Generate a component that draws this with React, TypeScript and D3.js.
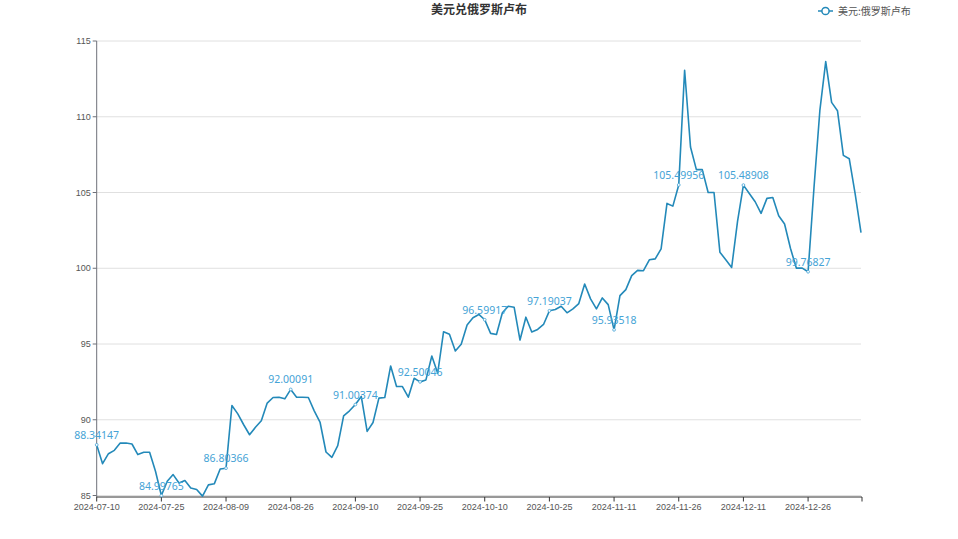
import React from 'react';
import { scalePoint, scaleLinear, line } from 'd3';

const title = '美元兑俄罗斯卢布';
const seriesName = '美元:俄罗斯卢布';

// weekday dates, grouped by month
const months: [string, number[]][] = [
  ['2024-07', [10, 11, 12, 15, 16, 17, 18, 19, 22, 23, 24, 25, 26, 29, 30, 31]],
  ['2024-08', [1, 2, 5, 6, 7, 8, 9, 12, 13, 14, 15, 16, 19, 20, 21, 22, 23, 26, 27, 28, 29, 30]],
  ['2024-09', [2, 3, 4, 5, 6, 9, 10, 11, 12, 13, 16, 17, 18, 19, 20, 23, 24, 25, 26, 27, 30]],
  ['2024-10', [1, 2, 3, 4, 7, 8, 9, 10, 11, 14, 15, 16, 17, 18, 21, 22, 23, 24, 25, 28, 29, 30, 31]],
  ['2024-11', [1, 4, 5, 6, 7, 8, 11, 12, 13, 14, 15, 18, 19, 20, 21, 22, 25, 26, 27, 28, 29]],
  ['2024-12', [2, 3, 4, 5, 6, 9, 10, 11, 12, 13, 16, 17, 18, 19, 20, 23, 24, 25, 26, 27, 30, 31]],
  ['2025-01', [1, 2, 3, 6, 7, 8]],
];
const dates: string[] = months.flatMap(([m, days]) => days.map(d => `${m}-${String(d).padStart(2, '0')}`));

const rates = [
  88.34147, 87.10, 87.76, 87.98, 88.46, 88.46, 88.40, 87.70, 87.85, 87.85, 86.60,
  84.99765, 85.94, 86.38, 85.83, 85.99, 85.50, 85.40, 84.96, 85.70, 85.77, 86.75,
  86.80366, 90.94, 90.39, 89.67, 89.01, 89.50, 89.93, 91.10, 91.47, 91.49, 91.38,
  92.00091, 91.49, 91.49, 91.47, 90.59, 89.82, 87.87, 87.52, 88.29, 90.26, 90.59,
  91.00374, 91.54, 89.23, 89.82, 91.43, 91.47, 93.55, 92.19, 92.19, 91.49, 92.74,
  92.50046, 92.63, 94.21, 93.07, 95.81, 95.64, 94.54, 94.98, 96.25, 96.73, 96.95,
  96.59917, 95.70, 95.63, 97.06, 97.49, 97.43, 95.26, 96.77, 95.79, 95.96, 96.29,
  97.19037, 97.28, 97.49, 97.06, 97.32, 97.67, 98.96, 97.98, 97.32, 98.04, 97.60,
  95.93518, 98.19, 98.59, 99.51, 99.86, 99.84, 100.56, 100.62, 101.28, 104.28, 104.10,
  105.49956, 113.07, 108.00, 106.51, 106.51, 105.00, 105.00, 101.06, 100.56, 100.05, 103.10,
  105.48908, 104.93, 104.39, 103.62, 104.61, 104.67, 103.47, 102.92, 101.32, 100.01, 100.01,
  99.76827, 105.30, 110.40, 113.64, 110.95, 110.40, 107.45, 107.23, 104.93, 102.35,
];

const yTicks = [85, 90, 95, 100, 105, 110, 115];
const labelEvery = 11;

const W = 958;
const H = 539;
const left = 96.7;
const right = 861;
const top = 41;
const bottom = 495.5;
const lineColor = '#2389b9';
const labelColor = '#45a3d6';
const font = '"Liberation Sans", Arial, sans-serif';

const App: React.FC = () => {
  const x = scalePoint<string>().domain(dates).range([left, right]);
  const y = scaleLinear().domain([85, 115]).range([bottom, top]);

  const path = line<number>()
    .x((_, i) => x(dates[i])!)
    .y(d => y(d))(rates);

  const shown = rates.map((v, i) => ({ v, i })).filter(d => d.i % labelEvery === 0);
  const xLabels = dates.filter((_, i) => i % labelEvery === 0);

  return (
    <div style={{ position: 'absolute', left: 0, top: 0 }}>
      <svg width={W} height={H} style={{ display: 'block', background: '#fff' }}>
        <text x={W / 2} y={14} textAnchor="middle" fontSize={12} fontWeight="bold" fill="#333"
          fontFamily='"Noto Sans CJK SC", sans-serif'>{title}</text>

        {/* legend */}
        <g transform="translate(818, 11)">
          <line x1={0} x2={15} y1={0} y2={0} stroke={lineColor} strokeWidth={1.5} />
          <circle cx={7.5} cy={0} r={3.6} fill="#fff" stroke={lineColor} strokeWidth={1.5} />
          <text x={20} y={3.5} fontSize={10} fill="#555" fontFamily='"Noto Sans CJK SC", sans-serif'>{seriesName}</text>
        </g>

        {/* grid */}
        {yTicks.map(t => (
          <g key={t}>
            <line x1={left} x2={right} y1={y(t)} y2={y(t)} stroke="#e0e0e0" strokeWidth={1} />
            <line x1={left - 4} x2={left} y1={y(t)} y2={y(t)} stroke="#6e7079" />
            <text x={left - 6} y={y(t) + 3} textAnchor="end" fontSize={9} fill="#555" fontFamily={font}>{t}</text>
          </g>
        ))}
        <line x1={left} x2={left} y1={top} y2={bottom + 1.5} stroke="#6e7079" strokeWidth={1} />

        {/* x axis */}
        <line x1={left} x2={right + 1} y1={bottom + 1.5} y2={bottom + 1.5} stroke="#333" strokeWidth={1} />
        {xLabels.map(d => (
          <g key={d}>
            <line x1={x(d)!} x2={x(d)!} y1={bottom + 1.5} y2={bottom + 6} stroke="#333" />
            <text x={x(d)!} y={bottom + 14} textAnchor="middle" fontSize={9} fill="#555" fontFamily={font}>{d}</text>
          </g>
        ))}
        <line x1={right + 1} x2={right + 1} y1={bottom + 1.5} y2={bottom + 6} stroke="#333" />

        <path d={path ?? ''} fill="none" stroke={lineColor} strokeWidth={1.6} strokeLinejoin="round" />

        {shown.map(({ v, i }) => (
          <g key={i}>
            <circle cx={x(dates[i])!} cy={y(v)} r={1.4} fill="#fff" stroke={labelColor} strokeWidth={0.8} />
            <text x={x(dates[i])!} y={y(v) - 6} textAnchor="middle" fontSize={10.5} fill={labelColor}
              fontFamily='"Noto Sans", sans-serif'>{v.toFixed(5)}</text>
          </g>
        ))}
      </svg>
    </div>
  );
};

export default App;
